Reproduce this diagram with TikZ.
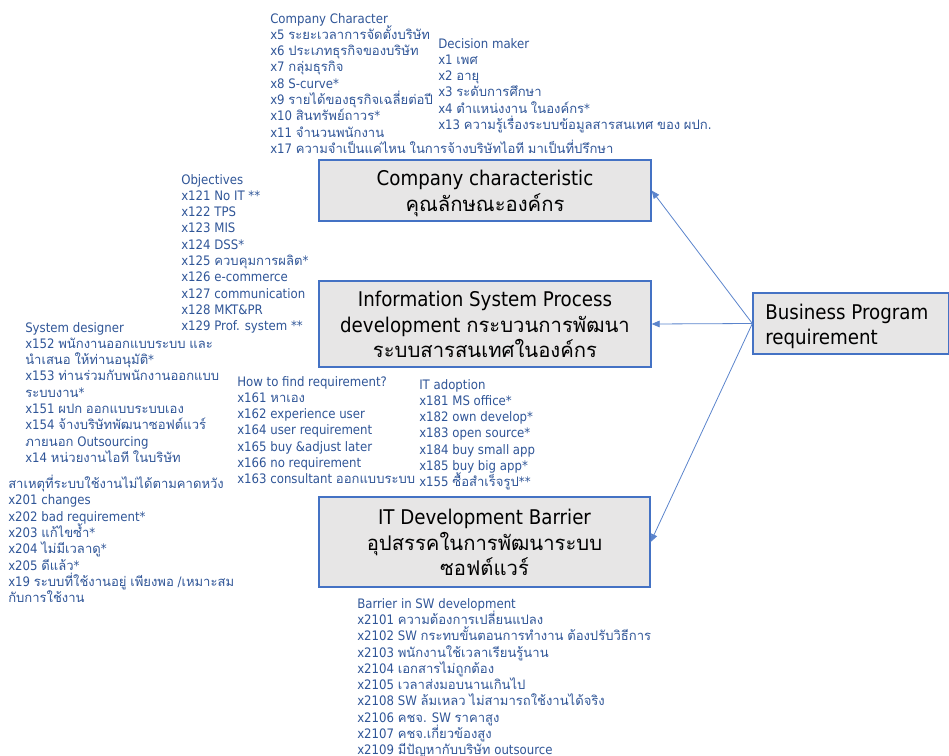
\documentclass[tikz,border=0pt]{standalone}
\usepackage{fontspec}
\setmainfont{DejaVu Sans Condensed}
\newfontfamily\latinfont{DejaVu Sans Condensed}
\newfontfamily\thaifont[Script=Thai]{Loma}
\usetikzlibrary{arrows.meta}

% switch to the Thai font automatically for characters U+0E00--U+0E7F
\XeTeXinterchartokenstate=1
\newXeTeXintercharclass\ThaiClass
\newcount\thcode
\thcode="0E00
\loop
  \XeTeXcharclass\thcode=\ThaiClass
  \advance\thcode by 1
\ifnum\thcode<"0E80 \repeat
\XeTeXinterchartoks 0 \ThaiClass = {\thaifont}
\XeTeXinterchartoks 4095 \ThaiClass = {\thaifont}
\XeTeXinterchartoks \ThaiClass 0 = {\latinfont}
\XeTeXinterchartoks \ThaiClass 4095 = {\latinfont}

\definecolor{listblue}{HTML}{2F5597}
\definecolor{boxedge}{HTML}{4472C4}
\definecolor{boxfill}{HTML}{E7E6E6}
\definecolor{linkblue}{HTML}{5B84CC}

\begin{document}
% keep baselines evenly spaced even with tall Thai marks
\lineskiplimit=-20pt\relax
\begin{tikzpicture}[x=0.75pt,y=-0.75pt,
  listtxt/.style={anchor=north west, inner sep=0pt, align=left, text=listblue,
    font=\fontsize{9.8}{12.2}\selectfont},
  boxnode/.style={draw=boxedge, fill=boxfill, line width=1pt, inner sep=0pt},
  boxlabel/.style={inner sep=0pt, text=black,
    font=\fontsize{15.2}{18.9}\selectfont},
  link/.style={draw=linkblue, line width=0.6pt, -{Triangle[length=6pt,width=5pt]}}
]
\useasboundingbox (0,0) rectangle (949,756);

% central boxes
\node[boxnode, minimum width=249pt, minimum height=45.75pt] (comp) at (485,190.5) {};
\node[boxlabel, align=center] (comptext) at (485,193.5)
  {Company characteristic\\คุณลักษณะองค์กร};

\node[boxnode, minimum width=249pt, minimum height=64.5pt] (info) at (485,324) {};
\node[boxlabel, align=center] (infotext) at (485,324.5)
  {Information System Process\\development กระบวนการพัฒนา\\ระบบสารสนเทศในองค์กร};

\node[boxnode, minimum width=248.25pt, minimum height=67.5pt] (bar) at (484.5,542) {};
\node[boxlabel, align=center] (bartext) at (484.5,542.5)
  {IT Development Barrier\\อุปสรรคในการพัฒนาระบบ\\ซอฟต์แวร์};

\node[boxnode, minimum width=146.6pt, minimum height=45.75pt] (biz) at (850.75,323.5) {};
\node[boxlabel, align=left, anchor=west] (biztext) at (765,326.5)
  {Business Program\\requirement};

% connectors
\draw[link] (biz.west) -- (comp.east);
\draw[link] (biz.west) -- (info.east);
\draw[link] (biz.west) -- (bar.east);

% variable lists
\node[listtxt] (cc) at (270,13) {Company Character\\
x5 ระยะเวลาการจัดตั้งบริษัท\\
x6 ประเภทธุรกิจของบริษัท\\
x7 กลุ่มธุรกิจ\\
x8 S-curve*\\
x9 รายได้ของธุรกิจเฉลี่ยต่อปี\\
x10 สินทรัพย์ถาวร*\\
x11 จำนวนพนักงาน\\
x17 ความจำเป็นแค่ไหน ในการจ้างบริษัทไอที มาเป็นที่ปรึกษา};

\node[listtxt] (dm) at (438,38) {Decision maker\\
x1 เพศ\\
x2 อายุ\\
x3 ระดับการศึกษา\\
x4 ตำแหน่งงาน ในองค์กร*\\
x13 ความรู้เรื่องระบบข้อมูลสารสนเทศ ของ ผปก.};

\node[listtxt] (obj) at (181,174) {Objectives\\
x121 No IT **\\
x122 TPS\\
x123 MIS\\
x124 DSS*\\
x125 ควบคุมการผลิต*\\
x126 e-commerce\\
x127 communication\\
x128 MKT\&PR\\
x129 Prof. system **};

\node[listtxt] (sd) at (25,322) {System designer\\
x152 พนักงานออกแบบระบบ และ\\
นำเสนอ ให้ท่านอนุมัติ*\\
x153 ท่านร่วมกับพนักงานออกแบบ\\
ระบบงาน*\\
x151 ผปก ออกแบบระบบเอง\\
x154 จ้างบริษัทพัฒนาซอฟต์แวร์\\
ภายนอก Outsourcing\\
x14 หน่วยงานไอที ในบริษัท};

\node[listtxt] (hf) at (237,376) {How to find requirement?\\
x161 หาเอง\\
x162 experience user\\
x164 user requirement\\
x165 buy \&adjust later\\
x166 no requirement\\
x163 consultant ออกแบบระบบ};

\node[listtxt] (ita) at (419,379) {IT adoption\\
x181 MS office*\\
x182 own develop*\\
x183 open source*\\
x184 buy small app\\
x185 buy big app*\\
x155 ซื้อสำเร็จรูป**};

\node[listtxt] (rs) at (8,475) {สาเหตุที่ระบบใช้งานไม่ได้ตามคาดหวัง\\
x201 changes\\
x202 bad requirement*\\
x203 แก้ไขซ้ำ*\\
x204 ไม่มีเวลาดู*\\
x205 ดีแล้ว*\\
x19 ระบบที่ใช้งานอยู่ เพียงพอ /เหมาะสม\\
กับการใช้งาน};

\node[listtxt] (bsw) at (357,598) {Barrier in SW development\\
x2101 ความต้องการเปลี่ยนแปลง\\
x2102 SW กระทบขั้นตอนการทำงาน ต้องปรับวิธีการ\\
x2103 พนักงานใช้เวลาเรียนรู้นาน\\
x2104 เอกสารไม่ถูกต้อง\\
x2105 เวลาส่งมอบนานเกินไป\\
x2108 SW ล้มเหลว ไม่สามารถใช้งานได้จริง\\
x2106 คชจ. SW ราคาสูง\\
x2107 คชจ.เกี่ยวข้องสูง\\
x2109 มีปัญหากับบริษัท outsource};
\end{tikzpicture}
\end{document}
